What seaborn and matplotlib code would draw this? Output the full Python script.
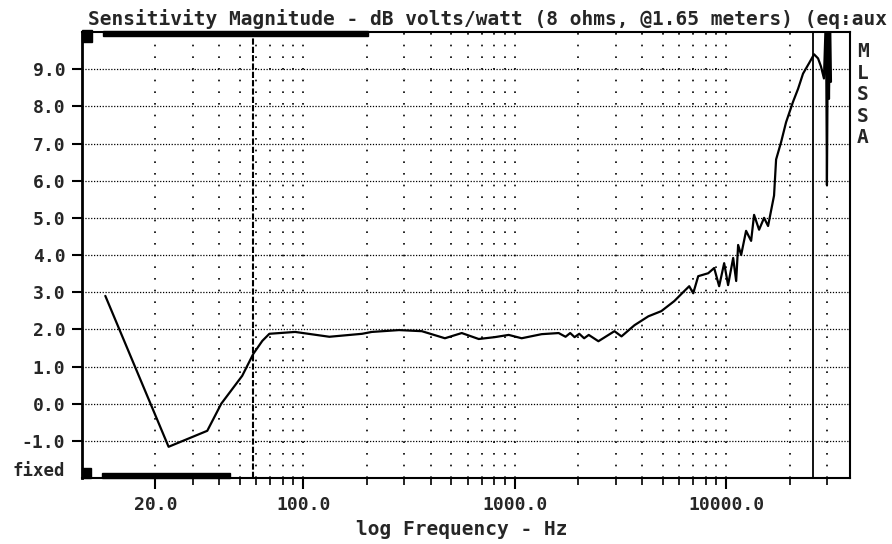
import numpy as np
import pandas as pd
import seaborn as sns
import matplotlib.pyplot as plt
from matplotlib.patches import Rectangle
from matplotlib.ticker import FixedLocator, NullFormatter

# sensitivity curve (Hz, dB volts/watt)
freq = [11.6, 23.1, 35.2, 41.0, 51.5, 58.1, 64.1, 69.2, 91.6, 133, 190,
        211, 284, 364, 468, 562, 676, 805, 937, 1079, 1341, 1614,
        1740, 1830, 1920, 2020, 2130, 2240, 2488, 2963, 3199, 3683, 4285,
        4936, 5684, 6339, 6688, 6985, 7376, 8226, 8775, 9265, 9783, 10210,
        10790, 11150, 11390, 11770, 12420, 13120, 13550, 14310, 15110,
        15780, 16300, 16840, 17220, 18170, 19190, 20700, 21870, 23090,
        24650, 26030, 27190, 28080, 28990, 29640, 29950, 30290, 30620,
        30970, 31290]
db = [2.9, -1.16, -0.73, 0.0, 0.75, 1.34, 1.69, 1.88, 1.93, 1.80, 1.88,
      1.93, 1.98, 1.95, 1.76, 1.90, 1.74, 1.79, 1.85, 1.76, 1.87, 1.90,
      1.80, 1.90, 1.79, 1.88, 1.76, 1.85, 1.68, 1.95, 1.81, 2.11, 2.35,
      2.49, 2.76, 3.03, 3.16, 2.97, 3.43, 3.51, 3.65, 3.16, 3.78, 3.19,
      3.92, 3.30, 4.27, 4.00, 4.65, 4.38, 5.08, 4.68, 5.00,
      4.78, 5.19, 5.60, 6.57, 7.03, 7.57, 8.12, 8.47, 8.88,
      9.16, 9.40, 9.29, 9.07, 8.75, 10.5, 5.88, 10.5, 8.2,
      10.5, 8.66]

xticks = [20, 100, 1000, 10000]
xticklabels = ['20.0', '100.0', '1000.0', '10000.0']
yticks = [-1, 0, 1, 2, 3, 4, 5, 6, 7, 8, 9]
cursors = [58.1, 25700]

df = pd.DataFrame({'freq': freq, 'db': db})

sns.set_theme(style='white')
plt.rcParams['font.family'] = ['DejaVu Sans Mono', 'DejaVu Sans']
plt.rcParams['font.weight'] = 'bold'

fig = plt.figure(figsize=(8.92, 5.44), dpi=100)
ax = fig.add_axes([82/892, 1-478/544, 768/892, 446/544])

sns.lineplot(data=df, x='freq', y='db', ax=ax, color='black', lw=1.6,
             estimator=None, sort=False)
ax.set_xscale('log')
ax.set_xlim(9.0, 38500)
ax.set_ylim(-2, 10)

minor = [m * 10**e for e in range(1, 5) for m in range(2, 10)]
minor = [v for v in minor if v not in xticks and v < 38500]
ax.xaxis.set_major_locator(FixedLocator(xticks))
ax.xaxis.set_minor_locator(FixedLocator(minor))
ax.xaxis.set_minor_formatter(NullFormatter())
ax.set_xticklabels(xticklabels)
ax.set_yticks(yticks)
ax.set_yticklabels([f'{v:.1f}' for v in yticks])

ax.tick_params(axis='x', which='major', direction='out', length=8, width=1.5,
               pad=5, labelsize=13, bottom=True, color='black')
ax.tick_params(axis='x', which='minor', direction='out', length=5, width=1.2,
               bottom=True, color='black')
ax.tick_params(axis='y', direction='out', length=7, width=1.5, pad=5,
               labelsize=13, left=True, color='black')

ax.grid(False)
ax.xaxis.grid(True, which='both', color='black', lw=1.2, ls=(0, (1, 6)))
ax.yaxis.grid(True, which='major', color='black', lw=0.9, ls=(0, (1, 1.3)))

for c in cursors[:1]:
    ax.axvline(c, color='black', lw=1.5, ls=(0, (3, 1)))
for c in cursors[1:]:
    ax.axvline(c, color='black', lw=1.3)

for s in ax.spines.values():
    s.set_color('black')
    s.set_linewidth(1.5)
ax.spines['left'].set_linewidth(2)

ax.set_xlabel('')
ax.set_ylabel('')

# scroll indicators in the corners
for r in [(0, 0.978, 0.013, 0.026), (0.027, 0.991, 0.345, 0.011),
          (0, 0, 0.012, 0.022), (0.026, 0, 0.167, 0.011)]:
    ax.add_patch(Rectangle(r[:2], r[2], r[3], transform=ax.transAxes,
                           color='black', clip_on=False, zorder=5))

fig.text(88/892, 1-25/544,
         'Sensitivity Magnitude - dB volts/watt (8 ohms, @1.65 meters) (eq:aux',
         fontsize=14, fontweight='bold', va='baseline', ha='left')
fig.text(462/892, 1-535/544, 'log Frequency - Hz', fontsize=14,
         fontweight='bold', ha='center', va='baseline')
fig.text(65/892, 1-471/544, 'fixed', fontsize=12.5, fontweight='bold',
         ha='right', va='center')
fig.text(857/892, 1-42/544, 'M\nL\nS\nS\nA', fontsize=14, fontweight='bold',
         ha='left', va='top', linespacing=1.17)

fig.savefig('out.png', dpi=100)
